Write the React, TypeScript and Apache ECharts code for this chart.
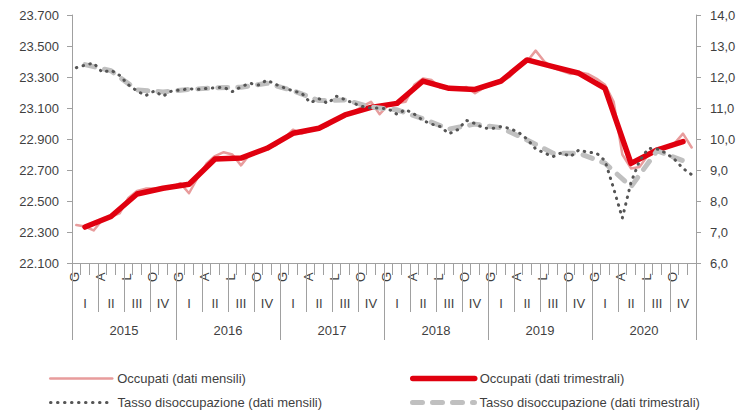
import React, { useEffect, useRef } from "react";
import * as echarts from "echarts";

const years = ["2015", "2016", "2017", "2018", "2019", "2020"];
const quarterLabels = ["I", "II", "III", "IV"];
const monthLabels = ["G", "", "", "A", "", "", "L", "", "", "O", "", ""];

const occupatiMensili = [
  22345, 22335, 22310, 22380, 22400, 22420, 22520, 22565, 22580, 22580, 22585, 22590,
  22615, 22550, 22650, 22740, 22790, 22815, 22800, 22730, 22800, 22820, 22840, 22860,
  22905, 22960, 22935, 22955, 22965, 22985, 23030, 23060, 23075, 23110, 23140, 23060,
  23120, 23130, 23140, 23250, 23290, 23280, 23230, 23225, 23225, 23235, 23195, 23230,
  23250, 23270, 23300, 23360, 23400, 23470, 23400, 23360, 23340, 23320, 23330, 23320,
  23290, 23250, 23140, 22800, 22710, 22720, 22800, 22840, 22850, 22870, 22935, 22845,
];

const occupatiTrimestrali = [
  22332, 22400, 22545, 22582, 22608, 22771, 22777, 22840, 22937, 22969, 23055, 23104,
  23130, 23274, 23227, 23220, 23274, 23410, 23367, 23324, 23227, 22743, 22829, 22883,
];

const tassoMensili = [
  12.3, 12.38, 12.45, 12.15, 12.22, 12.05, 11.75, 11.55, 11.4, 11.55, 11.38, 11.55,
  11.58, 11.62, 11.6, 11.63, 11.65, 11.67, 11.53, 11.68, 11.8, 11.74, 11.9, 11.76,
  11.65, 11.55, 11.48, 11.17, 11.3, 11.15, 11.38, 11.27, 11.15, 11.05, 11.0, 11.0,
  10.97, 10.8, 10.95, 10.8, 10.6, 10.48, 10.4, 10.17, 10.3, 10.6, 10.5, 10.35,
  10.34, 10.4, 10.34, 10.22, 10.0, 9.68, 9.55, 9.43, 9.56, 9.43, 9.65, 9.57,
  9.55, 9.3, 8.4, 7.45, 8.6, 9.3, 9.7, 9.68, 9.55, 9.35, 9.05, 8.85,
];

const tassoTrimestrali = [
  12.4, 12.2, 11.58, 11.52, 11.6, 11.65, 11.67, 11.8, 11.56, 11.24, 11.26, 11.03,
  10.94, 10.65, 10.32, 10.48, 10.36, 9.97, 9.54, 9.54, 9.22, 8.46, 9.62, 9.3,
];

const months = years.flatMap((y) => monthLabels.map((_, i) => `${y}-${i + 1}`));
const quarters = years.flatMap((y) => quarterLabels.map((q) => `${q} ${y}`));

const FONT = "'Liberation Sans', Arial, sans-serif";
const TEXT = "#3f3f3f";
const AXIS = "#a0a0a0";

const fmtThousands = (v: number) =>
  String(Math.round(v)).replace(/\B(?=(\d{3})+(?!\d))/g, ".");

const names = [
  "Occupati (dati mensili)",
  "Occupati (dati trimestrali)",
  "Tasso disoccupazione (dati mensili)",
  "Tasso disoccupazione (dati trimestrali)",
];

const legendAt = (name: string, left: number, top: number, lineWidth: number) => ({
  data: [name],
  orient: "horizontal",
  left,
  top,
  itemWidth: 62,
  itemHeight: 14,
  itemStyle: { opacity: 0 },
  lineStyle: { width: lineWidth },
  textStyle: { fontSize: 13, color: TEXT, fontFamily: FONT },
});

export default function App() {
  const ref = useRef<HTMLDivElement>(null);
  useEffect(() => {
    if (!ref.current) return;
    const chart = echarts.init(ref.current, undefined, { renderer: "svg" });
    chart.setOption({
      animation: false,
      backgroundColor: "#ffffff",
      textStyle: { fontFamily: FONT },
      grid: { left: 72, right: 57, top: 15, bottom: 147, containLabel: false },
      legend: [
        legendAt(names[0], 44, 367, 2.5),
        legendAt(names[2], 44, 391, 3),
        legendAt(names[1], 405, 367, 5.5),
        legendAt(names[3], 405, 391, 5),
      ],
      xAxis: [
        {
          type: "category",
          position: "bottom",
          data: months,
          boundaryGap: true,
          axisLine: { show: true, lineStyle: { color: AXIS, width: 1 } },
          axisTick: { show: true, interval: 0, length: 12, lineStyle: { color: AXIS } },
          axisLabel: { show: false },
          splitLine: { show: false },
        },
        {
          type: "category",
          position: "bottom",
          data: quarters,
          boundaryGap: true,
          axisLine: { show: false },
          axisTick: { show: true, interval: 0, length: 49, lineStyle: { color: AXIS } },
          axisLabel: {
            interval: 0,
            margin: 34,
            fontSize: 13,
            color: TEXT,
            fontFamily: FONT,
            formatter: (v: string) => v.split(" ")[0],
          },
          splitLine: { show: false },
        },
        {
          type: "category",
          position: "bottom",
          data: years,
          boundaryGap: true,
          axisLine: { show: false },
          axisTick: { show: true, interval: 0, length: 77, lineStyle: { color: AXIS } },
          axisLabel: {
            interval: 0,
            margin: 61,
            fontSize: 13,
            color: TEXT,
            fontFamily: FONT,
          },
          splitLine: { show: false },
        },
      ],
      yAxis: [
        {
          type: "value",
          position: "left",
          min: 22100,
          max: 23700,
          interval: 200,
          axisLine: { show: true, lineStyle: { color: AXIS } },
          axisTick: { show: true, length: 5, lineStyle: { color: AXIS } },
          axisLabel: {
            margin: 13,
            fontSize: 13,
            color: TEXT,
            fontFamily: FONT,
            formatter: fmtThousands,
          },
          splitLine: { show: false },
        },
        {
          type: "value",
          position: "right",
          min: 6,
          max: 14,
          interval: 1,
          axisLine: { show: true, lineStyle: { color: AXIS } },
          axisTick: { show: true, length: 5, lineStyle: { color: AXIS } },
          axisLabel: {
            margin: 14,
            fontSize: 13,
            color: TEXT,
            fontFamily: FONT,
            formatter: (v: number) => v.toFixed(1).replace(".", ","),
          },
          splitLine: { show: false },
        },
      ],
      series: [
        {
          name: names[0],
          type: "line",
          xAxisIndex: 0,
          yAxisIndex: 0,
          data: occupatiMensili,
          symbol: "none",
          color: "#e89c9c",
          lineStyle: { color: "#e89c9c", width: 2.5, cap: "round", join: "round" },
        },
        {
          name: names[1],
          type: "line",
          xAxisIndex: 1,
          yAxisIndex: 0,
          data: occupatiTrimestrali,
          symbol: "none",
          color: "#e0000f",
          lineStyle: { color: "#e0000f", width: 5.5, cap: "round", join: "round" },
        },
        {
          name: names[3],
          type: "line",
          xAxisIndex: 1,
          yAxisIndex: 1,
          data: tassoTrimestrali,
          symbol: "none",
          color: "#c0c0c0",
          lineStyle: { color: "#c0c0c0", width: 5, type: [10, 10], cap: "round", join: "round" },
        },
        {
          name: names[2],
          type: "line",
          xAxisIndex: 0,
          yAxisIndex: 1,
          data: tassoMensili,
          symbol: "none",
          color: "#555555",
          lineStyle: { color: "#555555", width: 3, type: [0.5, 6.5], cap: "round", join: "round" },
        },
      ],
    });

    // Month initials (rotated 90°), positioned via the month axis scale
    const axisY = chart.convertToPixel({ yAxisIndex: 0 }, 22100) as number;
    const monthTexts: any[] = [];
    months.forEach((m, i) => {
      const label = monthLabels[i % 12];
      if (!label) return;
      const x = chart.convertToPixel({ xAxisIndex: 0 }, m) as number;
      monthTexts.push({
        type: "text",
        x: x - 2,
        y: axisY + 14,
        rotation: Math.PI / 2,
        style: {
          text: label,
          fill: TEXT,
          font: `13px ${FONT}`,
          align: "center",
          verticalAlign: "middle",
        },
        silent: true,
      });
    });
    chart.setOption({ graphic: monthTexts });

    return () => chart.dispose();
  }, []);
  return (
    <div
      ref={ref}
      style={{ position: "fixed", left: 0, top: 0, width: 753, height: 410, background: "#fff" }}
    />
  );
}
